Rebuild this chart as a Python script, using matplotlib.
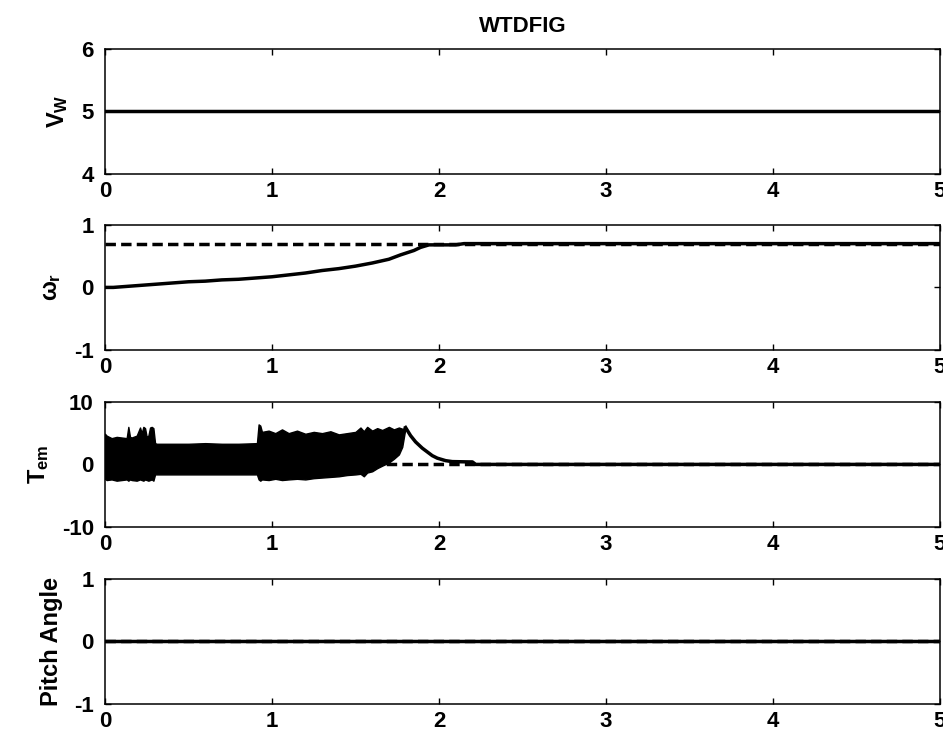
import matplotlib
matplotlib.use("Agg")
import matplotlib.pyplot as plt

# ---- data ----
t_span = [0.0, 5.0]

wind_speed = [5.0, 5.0]

omega_ref = [0.70, 0.70]
omega_t = [0.0, 0.05, 0.1, 0.2, 0.3, 0.4, 0.5, 0.6, 0.7, 0.8, 0.9, 1.0, 1.1,
           1.2, 1.3, 1.4, 1.5, 1.6, 1.7, 1.77, 1.85, 1.89, 1.94, 2.0, 2.1,
           2.15, 5.0]
omega_r = [0.0, 0.0, 0.01, 0.03, 0.05, 0.07, 0.09, 0.10, 0.12, 0.13, 0.15,
           0.17, 0.20, 0.23, 0.27, 0.30, 0.34, 0.39, 0.45, 0.52, 0.59, 0.64,
           0.68, 0.68, 0.68, 0.70, 0.70]

# envelope of the oscillating torque band (t < 1.8)
tem_band_t = [0.00, 0.01, 0.04, 0.07, 0.10, 0.13, 0.14, 0.15, 0.16, 0.19,
              0.21, 0.22, 0.23, 0.24, 0.25, 0.26, 0.27, 0.28, 0.29, 0.30,
              0.31, 0.40, 0.50, 0.60, 0.70, 0.80, 0.91, 0.92, 0.93, 0.94,
              0.98, 1.02, 1.06, 1.10, 1.15, 1.20, 1.25, 1.30, 1.35, 1.40,
              1.45, 1.50, 1.53, 1.55, 1.57, 1.60, 1.63, 1.66, 1.70, 1.73,
              1.76, 1.78, 1.80]
tem_upper = [4.9, 4.6, 4.2, 4.4, 4.3, 4.2, 6.0, 4.4, 4.3, 4.6,
             5.9, 5.0, 6.0, 5.8, 4.4, 4.6, 5.9, 6.0, 5.8, 3.4,
             3.3, 3.3, 3.3, 3.4, 3.3, 3.3, 3.4, 6.4, 6.2, 5.2,
             5.4, 5.0, 5.6, 5.0, 5.4, 4.9, 5.2, 5.0, 5.3, 4.8,
             5.0, 5.2, 5.9, 5.3, 6.0, 5.4, 5.8, 5.5, 6.0, 5.6,
             5.9, 5.7, 5.9]
tem_lower = [-2.3, -2.5, -2.4, -2.6, -2.5, -2.4, -2.6, -2.4, -2.5, -2.6,
             -2.4, -2.5, -2.6, -2.4, -2.5, -2.6, -2.5, -2.4, -2.6, -1.6,
             -1.6, -1.6, -1.6, -1.6, -1.6, -1.6, -1.6, -2.4, -2.6, -2.4,
             -2.5, -2.3, -2.5, -2.4, -2.3, -2.4, -2.2, -2.1, -2.0, -1.9,
             -1.7, -1.6, -1.5, -1.9, -1.3, -1.1, -0.6, -0.2, 0.3, 0.9,
             1.6, 2.8, 5.9]
# decay after the band
tem_tail_t = [1.80, 1.83, 1.86, 1.90, 1.93, 1.96, 1.99, 2.04, 2.08, 2.18,
              2.20, 2.22, 5.0]
tem_tail = [5.9, 4.6, 3.6, 2.6, 2.0, 1.4, 1.0, 0.6, 0.45, 0.4, 0.4, 0.0, 0.0]
tem_ref = [0.0, 0.0]

pitch = [0.0, 0.0]
pitch_ref = [0.0, 0.0]

x_ticks = [0, 1, 2, 3, 4, 5]
ylims = [(4, 6), (-1, 1), (-10, 10), (-1, 1)]
yticks = [[4, 5, 6], [-1, 0, 1], [-10, 0, 10], [-1, 0, 1]]
ylabels = [r"$\mathbf{V_W}$", r"$\omega_r$", r"$\mathbf{T_{em}}$", "Pitch Angle"]

plt.rcParams["font.family"] = ["Liberation Sans", "DejaVu Sans"]
plt.rcParams["font.weight"] = "bold"
plt.rcParams["axes.unicode_minus"] = False
plt.rcParams["mathtext.fontset"] = "custom"
plt.rcParams["mathtext.rm"] = "Liberation Sans:bold"
plt.rcParams["mathtext.bf"] = "Liberation Sans:bold"
plt.rcParams["mathtext.it"] = "Liberation Sans:bold"

LW = 2.5
DASH = (3.0, 1.5)

fig = plt.figure(figsize=(9.43, 7.36), dpi=100)
left, width, height = 0.1113, 0.8855, 0.170
bottoms = [0.7636, 0.5245, 0.284, 0.0435]
axes = [fig.add_axes([left, b, width, height]) for b in bottoms]

ax = axes[0]
ax.plot(t_span, wind_speed, color="black", lw=LW)

ax = axes[1]
ax.plot(t_span, omega_ref, color="black", lw=LW, ls="--", dashes=DASH)
ax.plot(omega_t, omega_r, color="black", lw=LW)

ax = axes[2]
ax.plot(t_span, tem_ref, color="black", lw=LW, ls="--", dashes=DASH)
ax.fill_between(tem_band_t, tem_lower, tem_upper, color="black", lw=1.0)
ax.plot(tem_tail_t, tem_tail, color="black", lw=LW)

ax = axes[3]
ax.plot(t_span, pitch, color="black", lw=LW)
ax.plot(t_span, pitch_ref, color="black", lw=LW, ls="--", dashes=DASH)

for ax, yl, yt, lab in zip(axes, ylims, yticks, ylabels):
    ax.set_xlim(0, 5)
    ax.set_ylim(*yl)
    ax.set_xticks(x_ticks)
    ax.set_yticks(yt)
    ax.tick_params(direction="in", top=True, right=True, length=4,
                   width=1.0, labelsize=16, pad=5)
    ax.tick_params(axis="y", pad=8)
    for s in ax.spines.values():
        s.set_linewidth(1.1)
    ax.set_ylabel(lab, fontsize=17, fontweight="bold", labelpad=8)

axes[0].set_title("WTDFIG", fontsize=16, fontweight="bold", pad=12)

fig.savefig("out.png", dpi=100)
